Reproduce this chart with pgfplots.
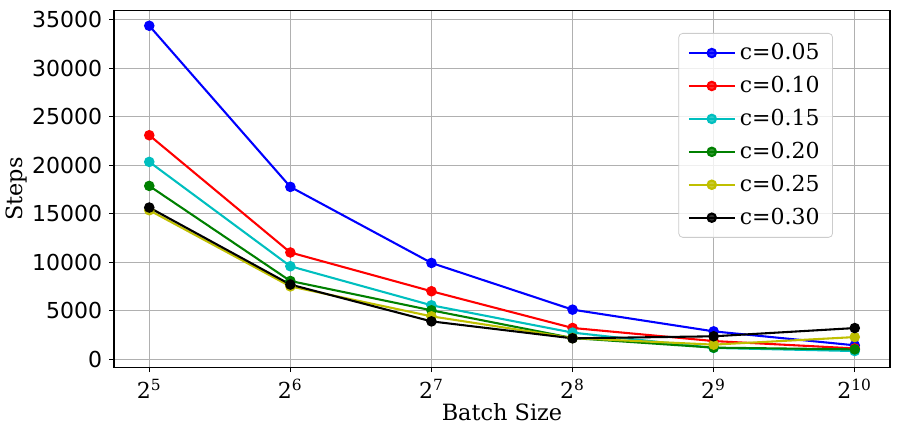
\documentclass[border=0pt]{standalone}
\usepackage{fontspec}
\setmainfont{DejaVu Serif}
\newfontfamily\dvs{DejaVu Sans}
\usepackage{pgfplots}
\pgfplotsset{compat=1.18}
\definecolor{mblue}{HTML}{0000FF}
\definecolor{mred}{HTML}{FF0000}
\definecolor{mcyan}{HTML}{00BFBF}
\definecolor{mgreen}{HTML}{008000}
\definecolor{myellow}{HTML}{BFBF00}
\definecolor{gridc}{HTML}{B0B0B0}
\begin{document}
\begin{tikzpicture}
\begin{axis}[
  scale only axis,
  width=388pt, height=178.4pt,
  xmin=4.75, xmax=10.25,
  ymin=-850, ymax=35975,
  xtick={5,6,7,8,9,10},
  xticklabels={2\textsuperscript{5},2\textsuperscript{6},2\textsuperscript{7},2\textsuperscript{8},2\textsuperscript{9},2\textsuperscript{10}},
  ytick={0,5000,10000,15000,20000,25000,30000,35000},
  scaled y ticks=false,
  /pgf/number format/1000 sep={},
  /pgf/number format/assume math mode=true,
  yticklabel style={font=\dvs\fontsize{11}{13}\selectfont},
  xticklabel style={font=\fontsize{11}{13}\selectfont},
  tick align=outside,
  major tick length=2.4pt,
  tick style={black, line width=0.55pt},
  xtick pos=bottom, ytick pos=left,
  axis line style={line width=0.55pt},
  grid=major,
  major grid style={gridc, line width=0.55pt},
  xlabel={Batch Size}, ylabel={Steps},
  xlabel style={font=\fontsize{11.2}{13}\selectfont, at={(axis description cs:0.5,-0.127)}, anchor=center},
  ylabel style={font=\fontsize{11.2}{13}\selectfont, at={(axis description cs:-0.126,0.5)}, anchor=center},
  every axis plot/.append style={line width=1.04pt, mark=*, mark size=2.1pt},
  legend style={at={(axis description cs:0.9265,0.937)}, anchor=north east,
    font=\fontsize{11}{13}\selectfont, draw=black!20, fill=white, fill opacity=0.8, text opacity=1,
    rounded corners=2pt, row sep=2.8pt, inner xsep=4.5pt, inner ysep=3pt},
  legend cell align=left,
  legend image code/.code={\draw[mark repeat=2,mark phase=2,#1] plot coordinates {(0pt,0pt) (11.5pt,0pt) (23pt,0pt)};},
]
\addplot[color=mblue] coordinates {(5,34400) (6,17770) (7,9920) (8,5100) (9,2860) (10,1420)};
\addlegendentry{c=0.05}
\addplot[color=mred] coordinates {(5,23100) (6,11000) (7,7000) (8,3210) (9,1860) (10,1100)};
\addlegendentry{c=0.10}
\addplot[color=mcyan] coordinates {(5,20350) (6,9580) (7,5550) (8,2730) (9,1150) (10,830)};
\addlegendentry{c=0.15}
\addplot[color=mgreen] coordinates {(5,17870) (6,8060) (7,5030) (8,2170) (9,1180) (10,1000)};
\addlegendentry{c=0.20}
\addplot[color=myellow] coordinates {(5,15360) (6,7500) (7,4410) (8,2170) (9,1490) (10,2270)};
\addlegendentry{c=0.25}
\addplot[color=black] coordinates {(5,15640) (6,7690) (7,3890) (8,2140) (9,2350) (10,3200)};
\addlegendentry{c=0.30}
\end{axis}
\pgfresetboundingbox
\path[use as bounding box] ([xshift=-57pt,yshift=-32.85pt]current axis.south west) rectangle ([xshift=5pt,yshift=5.25pt]current axis.north east);
\end{tikzpicture}
\end{document}
